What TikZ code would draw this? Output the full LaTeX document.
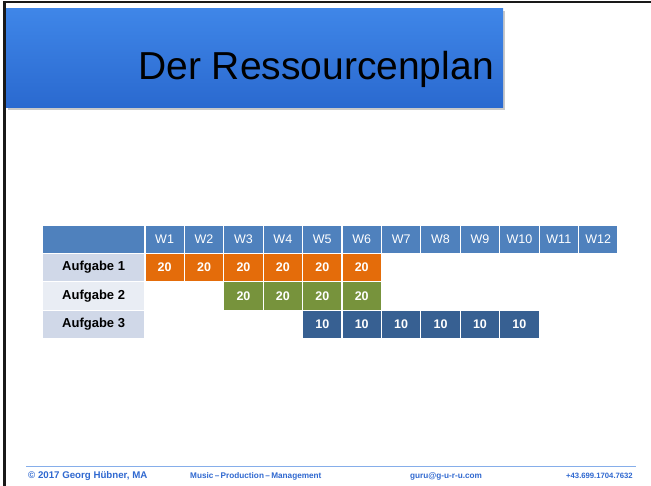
\documentclass[tikz,border=0pt]{standalone}
\usepackage{fontspec}
\setmainfont{Liberation Sans}
\definecolor{hdr}{HTML}{4F81BD}
\definecolor{lab1}{HTML}{D0D8E8}
\definecolor{lab2}{HTML}{E9EDF4}
\definecolor{orng}{HTML}{E46C0A}
\definecolor{grn}{HTML}{77933C}
\definecolor{dblue}{HTML}{376092}
\definecolor{bantop}{HTML}{3F86E8}
\definecolor{banbot}{HTML}{2A69CF}
\definecolor{foot}{HTML}{2F68D0}
\definecolor{footline}{HTML}{86AEEA}
\begin{document}
\begin{tikzpicture}[x=1pt,y=-1pt,
  cell/.style={rectangle,draw=white,line width=1.2pt,minimum width=39.42pt,minimum height=28.375pt,inner sep=0pt,anchor=north west,font=\fontsize{12.5}{14}\selectfont},
  labcell/.style={cell,minimum width=102.6pt,text=black,font=\fontsize{13}{15}\selectfont\bfseries},
  hdrcell/.style={cell,fill=hdr,text=white},
  valcell/.style={cell,text=white,font=\fontsize{12.5}{14}\selectfont\bfseries},
  foottext/.style={text=foot,inner sep=0pt,anchor=base west,font=\fontsize{8.2}{9}\selectfont\bfseries}]
\useasboundingbox (0,0) rectangle (651,486);
\fill[white] (0,0) rectangle (651,486);
% frame
\fill[black!90] (3,0.8) rectangle (651,3.2);
\fill[black!90] (3,0.8) rectangle (6,486);
% banner
\fill[black!35,opacity=0.6] (8,11) rectangle (505,110.5);
\shade[top color=bantop,bottom color=banbot] (6,9) rectangle (503,108);
\node[anchor=base east,inner sep=0pt,font=\fontsize{39}{44}\selectfont] (title) at (494,80) {Der Ressourcenplan};
% table header
\node[hdrcell,minimum width=102.6pt] (h0) at (41.7,224.5) {};
\foreach \i in {1,...,12} {
  \node[hdrcell] (w\i) at ({144.3+(\i-1)*39.42},224.5) {W\i};
}
% labels
\node[labcell,fill=lab1] (a1) at (41.7,252.875) {Aufgabe 1};
\node[labcell,fill=lab2] (a2) at (41.7,281.25) {Aufgabe 2};
\node[labcell,fill=lab1] (a3) at (41.7,309.625) {Aufgabe 3};
% values
\foreach \i in {1,...,6} {
  \node[valcell,fill=orng] (r1c\i) at ({144.3+(\i-1)*39.42},252.875) {20};
}
\foreach \i in {3,...,6} {
  \node[valcell,fill=grn] (r2c\i) at ({144.3+(\i-1)*39.42},281.25) {20};
}
\foreach \i in {5,...,10} {
  \node[valcell,fill=dblue] (r3c\i) at ({144.3+(\i-1)*39.42},309.625) {10};
}
% footer
\coordinate (fl) at (26,466.5);
\coordinate (fr) at (636,466.5);
\draw[footline,line width=1.2pt] (fl) -- (fr);
\node[foottext,font=\fontsize{9.7}{11}\selectfont\bfseries] (copy) at (28,478.5) {© 2017 Georg Hübner, MA};
\node[foottext] (music) at (190,478.5) {Music\,–\,Production\,–\,Management};
\node[foottext] (mail) at (410,478.5) {guru@g-u-r-u.com};
\node[foottext,font=\fontsize{7.7}{9}\selectfont\bfseries] (phone) at (566,478.5) {+43.699.1704.7632};
\end{tikzpicture}
\end{document}
